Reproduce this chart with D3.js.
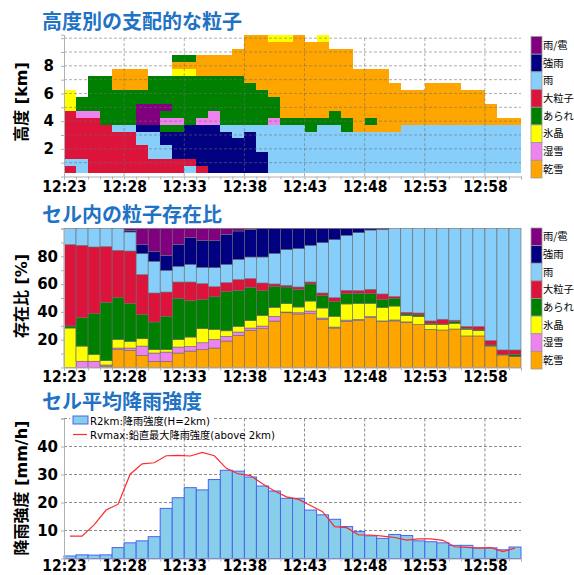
<!DOCTYPE html>
<html>
<head>
<meta charset="utf-8">
<script src="https://cdn.jsdelivr.net/npm/d3@7"></script>
<style>
  body { margin: 0; background: #fff; }
  text { font-family: "DejaVu Sans", "Noto Sans CJK JP", sans-serif; }
</style>
</head>
<body>
<div id="container"></div>
<script>
// time of each column (1 minute each)
const times = ['12:23','12:24','12:25','12:26','12:27','12:28','12:29','12:30','12:31','12:32',
  '12:33','12:34','12:35','12:36','12:37','12:38','12:39','12:40','12:41','12:42',
  '12:43','12:44','12:45','12:46','12:47','12:48','12:49','12:50','12:51','12:52',
  '12:53','12:54','12:55','12:56','12:57','12:58','12:59','13:00']
const tickTimes = ['12:23','12:28','12:33','12:38','12:43','12:48','12:53','12:58']

// categories (legend order, top to bottom)
const categories = ['雨/雹','強雨','雨','大粒子','あられ','氷晶','湿雪','乾雪']
const codes = ['A','B','R','L','G','Y','W','S']

// altitude levels [km] of the top panel rows
const levels = [0.5,1.0,1.5,2.0,2.5,3.0,3.5,4.0,4.5,5.0,5.5,6.0,6.5,7.0,7.5,8.0,8.5,9.0,9.5,10.0]

// dominant particle for each column, bottom level first ('.' = none)
const dominant = [
  'LRLLLLLLLYYY........',
  'RRLLLLLLWGG.........',
  'LLLLLLLLWGGGGG......',
  'LLLLLLLGGGGGGG......',
  'LLLLLLRGGGGGSSS.....',
  'LLLLLLRGGGGGSSS.....',
  'LLLLRRBAAAGGSSS.....',
  'LLRRRRBAAAGGGG......',
  'LLRRBBGWGAGGGG......',
  'LLBBBBGWGGGGGGYSG...',
  'RLBBBBBGGGGGGGYSG...',
  'LBBBBBBWGGGGGGSSS...',
  'BBBBBBBWWGGGGGSSS...',
  'BBBBBBRGGGGGGGSSS...',
  'BBBBBRRGGGGGGGSSSS..',
  'BBBBBBRGGGGGGSSSSSSS',
  'BBBRRRRGGGGGSSSSSSSS',
  'RRRRRRRWGGGSSSSSSSSY',
  'RRRRRRRGSSSSSSSSSSSY',
  'RRRRRRRGSSSSSSSSSSSS',
  'RRRRRRGGSSSSSSSSSSS.',
  'RRRRRRRGSSSSSSSSSSSY',
  'RRRRRRRGGSSSSSSSSS..',
  'RRRRRRGGSSSSSSSSSS..',
  'RRRRRRSSSSSSSSS.....',
  'RRRRRRSGSSSSSSS.....',
  'RRRRRRSSSSSSSSS.....',
  'RRRRRRSSSSSSS.......',
  'RRRRRRRSSSSS........',
  'RRRRRRRSSSSS........',
  'RRRRRRRSSSSSS.......',
  'RRRRRRRSSSSSS.......',
  'RRRRRRRSSSSSS.......',
  'RRRRRRRSSSSS........',
  'RRRRRRRSSSSS........',
  'RRRRRRRSSS..........',
  'RRRRRRRS............',
  'RRRRRRRS............'
]

// share of each particle in the cell [%]
const pctS = [0,0,0,1,12.8,12.3,8.7,4.4,4.4,10.4,11.8,12.8,14,19,23.1,26.7,27.9,33.4,39.4,38.5,38.7,34.6,28.4,33.2,33.7,35.9,33,33.5,32.5,31,27.5,27,27.7,22.7,22.7,15,9,7.8]
const pctW = [0,4.5,4.5,0.8,1.2,1.7,6.7,6,6.7,4.3,3.4,5,6.2,3.4,2.4,1.7,1.9,3.4,0.5,0.9,1.9,1,0.7,0.9,0.9,0.7,0.5,0.7,0.3,0,0,0,0,0,0,0,0,0]
const pctY = [28.4,10.9,4.9,3.1,6.2,4.8,5.3,2.4,1.7,5.3,6.7,10.1,7.2,4,4.1,5.3,7.7,6.5,6,4.1,7.2,7.2,7.7,11.6,11.5,9.6,9.6,10,4.5,5.6,3.5,4,4.1,4.8,3.8,0.5,0,0]
const pctG = [1.5,20.4,29.3,42,30,27.3,17.5,19.9,24,29.7,26.1,21.1,23.5,28.4,25.9,24,17.8,15.1,12,12.7,12.3,9.1,10.8,7.4,7.2,7.2,6,5.6,1.2,1.2,0.8,0.3,1.2,0.7,0.5,0.7,0.5,1.7]
const pctL = [58.5,52.1,48,40,34.1,37.7,28.6,20.9,17.5,11.8,13.5,11.3,7.2,6.2,7.7,6.2,5.5,1.7,1.2,1.7,1.4,1.7,2.6,2.4,2,2.8,3.8,1.2,1.2,1.4,1.7,3.4,1,1.2,2.4,3.1,3.1,3.1]
const pctR = [11.6,12.1,13.3,13.1,15.7,13.7,15.1,22.8,15.6,11.3,12.7,11.7,13.7,13.2,14.6,15.6,18.7,22,25.7,27.6,26.4,36.2,41.8,39.6,41.7,42.7,46.5,49,60.3,60.8,66.5,65.3,66,70.6,70.6,80.7,87.4,87.4]
const pctB = [0,0,0,0,0,1.2,6.5,7.2,10.8,15.6,19.2,19.5,19.5,21.6,20.4,19.9,20.5,17.9,15.2,14.5,12.1,10.2,8,4.9,3,1.1,0.6,0,0,0,0,0,0,0,0,0,0,0]
const pctA = [0,0,0,0,0,1.3,11.6,16.4,19.3,11.6,6.6,8.5,8.7,4.2,1.8,0.6,0,0,0,0,0,0,0,0,0,0,0,0,0,0,0,0,0,0,0,0,0,0]

// rain intensity [mm/h]
const r2km = [0.9,1.3,1.2,1.3,3.9,5.6,6.3,7.8,17.9,21.7,25.3,24.5,28.2,31.5,31.2,29.1,25.9,24.1,21.5,21.5,17.3,15.6,14,11.4,9.6,8.1,7.2,8.6,8.2,6.3,6.0,5.6,4.7,4.7,3.8,3.8,3.1,4.1]
const rvmax = [8.0,8.0,12,17.3,19.4,30.1,33.8,34.2,36.7,36.8,36.6,37.9,36.7,32.2,30.2,29.6,26.7,24.1,22,21.1,18.9,16.7,11.4,11,8.4,8.4,8.0,7.5,6.6,7.0,7.0,6.5,4.2,4.0,3.7,3.9,2.5,3.7]

const heightTicks = [2,4,6,8]
const pctTicks = [20,40,60,80]
const rainTicks = [10,20,30,40]

const color = {A:'#800080', B:'#000080', R:'#87cefa', L:'#dc143c', G:'#008000', Y:'#ffff00', W:'#ee82ee', S:'#ffa500'}

let width = 574, height = 575

let svg = d3.select('#container')
  .append('svg')
  .attr('width', width)
  .attr('height', height)

let parseT = d3.timeParse('%H:%M')
let t = times.map(parseT)
let x = d3.scaleTime()
  .domain([parseT('12:23'), parseT('13:01')])
  .range([64, 521])
let xEnd = function (d) { return x(d3.timeMinute.offset(d, 1)) }

function title(txt, y) {
  svg.append('text').attr('x', 42).attr('y', y).text(txt)
    .style('font-family', '"Noto Sans CJK JP"').style('font-weight', 'bold')
    .style('font-size', '20px').style('fill', '#1f72c4')
}

function yTitle(txt, cy) {
  svg.append('text')
    .attr('transform', 'translate(27,' + cy + ') rotate(-90)')
    .attr('text-anchor', 'middle')
    .style('font-weight', 'bold').style('font-size', '16px')
    .text(txt)
}

// labelY = baseline of the time labels
function xAxis(y0, labelY) {
  // minor minute ticks
  svg.append('g').attr('transform', 'translate(0,' + y0 + ')')
    .call(d3.axisBottom(x).ticks(d3.timeMinute.every(1)).tickSize(3).tickFormat(''))
    .call(g => g.selectAll('line,path').style('stroke', '#b0b0b0'))
  let ax = svg.append('g').attr('transform', 'translate(0,' + labelY + ')')
    .call(d3.axisBottom(x).tickValues(tickTimes.map(parseT)).tickSize(0).tickPadding(0)
      .tickFormat(d3.timeFormat('%H:%M')))
  ax.select('.domain').remove()
  ax.selectAll('text').attr('dy', null).attr('y', 0)
    .style('font-size', '15.5px').style('font-weight', 'bold').style('fill', '#000')
    .style('font-family', '"DejaVu Sans"').style('font-stretch', 'condensed')
}

function yAxis(scale, ticks, minor, labelX) {
  svg.append('g').attr('transform', 'translate(64,0)')
    .call(d3.axisLeft(scale).tickValues(minor).tickSize(3).tickFormat(''))
    .call(g => g.selectAll('line,path').style('stroke', '#b0b0b0'))
  let ax = svg.append('g').attr('transform', 'translate(' + labelX + ',0)')
    .call(d3.axisLeft(scale).tickValues(ticks).tickSize(0).tickPadding(0))
  ax.select('.domain').remove()
  ax.selectAll('text').style('font-size', '15px').style('font-weight', 'bold').style('fill', '#000')
    .style('font-family', '"DejaVu Sans"')
}

function legend(y0, y1) {
  let step = (y1 - y0) / categories.length
  let lg = svg.append('g')
  categories.forEach(function (c, i) {
    lg.append('rect').attr('x', 531).attr('y', y0 + i * step)
      .attr('width', 11).attr('height', step)
      .style('fill', color[codes[i]]).style('stroke', '#999').style('stroke-width', 0.8)
    lg.append('text').attr('x', 543).attr('y', y0 + i * step + step / 2)
      .attr('dy', '0.35em').text(c)
      .style('font-family', '"Noto Sans CJK JP"').style('font-size', '10.3px')
  })
}

// ---------- 高度別の支配的な粒子
title('高度別の支配的な粒子', 29)
let yTop = d3.scaleLinear().domain([0, 10.25]).range([176.5, 34.7])

let cells = []
dominant.forEach(function (col, i) {
  col.split('').forEach(function (c, k) {
    if (c !== '.') cells.push({ t: t[i], h: levels[k], c: c })
  })
})
svg.append('g').selectAll('rect')
  .data(cells).enter().append('rect')
  .attr('x', d => x(d.t))
  .attr('width', d => xEnd(d.t) - x(d.t))
  .attr('y', d => yTop(d.h + 0.25))
  .attr('height', d => yTop(d.h - 0.25) - yTop(d.h + 0.25))
  .attr('shape-rendering', 'crispEdges')
  .style('fill', d => color[d.c])

let gridTop = svg.append('g').style('stroke', 'rgba(110,110,110,0.55)').style('stroke-dasharray', '3,2')
gridTop.selectAll('.h').data(d3.range(1, 11)).enter().append('line')
  .attr('x1', 64).attr('x2', 521).attr('y1', d => yTop(d)).attr('y2', d => yTop(d))
gridTop.selectAll('.v').data(tickTimes.slice(1).map(parseT)).enter().append('line')
  .attr('x1', d => x(d)).attr('x2', d => x(d)).attr('y1', yTop(10)).attr('y2', yTop(0))

yAxis(yTop, heightTicks, d3.range(1, 11), 54)
xAxis(yTop(0), 192)
yTitle('高度 [km]', 102)
legend(36.5, 178)

// ---------- セル内の粒子存在比
title('セル内の粒子存在比', 222)
let yMid = d3.scaleLinear().domain([0, 100]).range([367.5, 228.5])
let rows = t.map(function (d, i) {
  return { t: d, S: pctS[i], W: pctW[i], Y: pctY[i], G: pctG[i], L: pctL[i], R: pctR[i], B: pctB[i], A: pctA[i] }
})
let stack = d3.stack().keys(['S','W','Y','G','L','R','B','A'])(rows)
svg.append('g').selectAll('g')
  .data(stack).enter().append('g')
  .style('fill', d => color[d.key])
  .selectAll('rect')
  .data(d => d).enter().append('rect')
  .attr('x', d => x(d.data.t))
  .attr('width', d => xEnd(d.data.t) - x(d.data.t))
  .attr('y', d => yMid(d[1]))
  .attr('height', d => yMid(d[0]) - yMid(d[1]))
  .style('stroke', '#6a6a6a').style('stroke-width', 0.6)

yAxis(yMid, pctTicks, d3.range(10, 101, 10), 58)
xAxis(yMid(0), 382)
yTitle('存在比 [%]', 296)
legend(228, 369)

// ---------- セル平均降雨強度
title('セル平均降雨強度', 409)
let yBot = d3.scaleLinear().domain([0, 50]).range([558.5, 418.5])

let gridBot = svg.append('g').style('stroke', '#8c8c8c').style('stroke-dasharray', '3,2')
gridBot.selectAll('.h').data([10,20,30,40,50]).enter().append('line')
  .attr('x1', 64).attr('x2', 521).attr('y1', d => yBot(d)).attr('y2', d => yBot(d))
gridBot.selectAll('.v').data(tickTimes.slice(1).map(parseT)).enter().append('line')
  .attr('x1', d => x(d)).attr('x2', d => x(d)).attr('y1', yBot(50)).attr('y2', yBot(0))

svg.append('g').selectAll('rect')
  .data(r2km).enter().append('rect')
  .attr('x', (d, i) => x(t[i]))
  .attr('width', (d, i) => xEnd(t[i]) - x(t[i]))
  .attr('y', d => yBot(d))
  .attr('height', d => yBot(0) - yBot(d))
  .style('fill', '#87ceeb').style('stroke', '#4a63f0').style('stroke-width', 1)

let line = d3.line()
  .x((d, i) => (x(t[i]) + xEnd(t[i])) / 2)
  .y(d => yBot(d))
svg.append('path').datum(rvmax).attr('d', line)
  .style('fill', 'none').style('stroke', '#ff2a2a').style('stroke-width', 1.2)

yAxis(yBot, rainTicks, [10,20,30,40,50], 58)
xAxis(yBot(0), 571)
yTitle('降雨強度 [mm/h]', 488)

// legend of the rain panel
let lg = svg.append('g').style('font-family', '"DejaVu Sans Mono", "Noto Sans CJK JP"').style('font-size', '10.2px')
let t1 = lg.append('text').attr('x', 90).attr('y', 424.5).text('R2km:降雨強度(H=2km)')
let t2 = lg.append('text').attr('x', 90).attr('y', 438.5).text('Rvmax:鉛直最大降雨強度(above 2km)')
let b1 = t1.node().getBBox()
lg.insert('rect', 'text').attr('x', 70).attr('y', 414).attr('width', b1.x + b1.width - 68).attr('height', 13)
  .style('fill', '#fff')
lg.append('rect').attr('x', 73).attr('y', 416).attr('width', 15).attr('height', 8)
  .style('fill', '#87ceeb').style('stroke', '#4a63f0')
lg.append('line').attr('x1', 73).attr('x2', 87).attr('y1', 434.5).attr('y2', 434.5)
  .style('stroke', '#ff2a2a').style('stroke-width', 1.2)
</script>
</body>
</html>
